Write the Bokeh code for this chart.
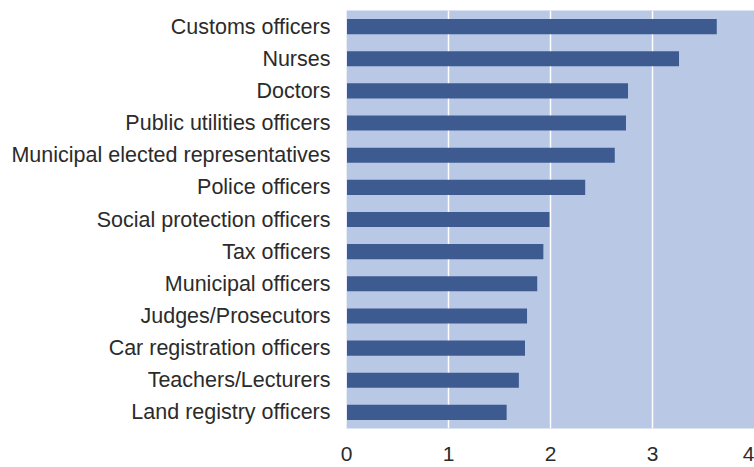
from bokeh.plotting import figure
from bokeh.models import ColumnDataSource, FixedTicker, Range1d
from bokeh.embed import file_html
from bokeh.resources import INLINE

categories = [
    "Customs officers", "Nurses", "Doctors", "Public utilities officers",
    "Municipal elected representatives", "Police officers",
    "Social protection officers", "Tax officers", "Municipal officers",
    "Judges/Prosecutors", "Car registration officers", "Teachers/Lecturers",
    "Land registry officers",
]
values = [3.63, 3.26, 2.76, 2.74, 2.63, 2.34, 1.99, 1.93, 1.87, 1.77, 1.75, 1.69, 1.57]
x_ticks = [0, 1, 2, 3, 4]

order = list(reversed(categories))
src = ColumnDataSource(dict(cat=categories, val=values))

p = figure(
    y_range=order, x_range=Range1d(0, 4),
    width=754, height=467,
    output_backend="svg", toolbar_location=None,
    min_border_left=346, min_border_right=0, min_border_top=10, min_border_bottom=39,
)
p.background_fill_color = "#b9c8e5"
p.border_fill_color = "white"
p.outline_line_color = None

p.hbar(y="cat", right="val", left=0, height=0.47, source=src,
       fill_color="#3e5b91", line_color=None)

p.xgrid.ticker = FixedTicker(ticks=x_ticks)
p.xgrid.grid_line_color = "white"
p.xgrid.grid_line_width = 1.5
p.ygrid.grid_line_color = None

p.xaxis.ticker = FixedTicker(ticks=x_ticks)
p.xaxis.axis_line_color = None
p.xaxis.major_tick_line_color = None
p.xaxis.minor_tick_line_color = None
p.xaxis.major_label_text_font = "Liberation Sans"
p.xaxis.major_label_text_font_size = "21px"
p.xaxis.major_label_text_color = "#2b2b2b"
p.xaxis.major_label_standoff = 12

p.yaxis.axis_line_color = "#e8edf7"
p.yaxis.major_tick_line_color = None
p.yaxis.minor_tick_line_color = None
p.yaxis.major_label_text_font = "Liberation Sans"
p.yaxis.major_label_text_font_size = "21.5px"
p.yaxis.major_label_text_color = "#2b2b2b"
p.yaxis.major_label_standoff = 10

open("out.html", "w").write(file_html(p, INLINE))
